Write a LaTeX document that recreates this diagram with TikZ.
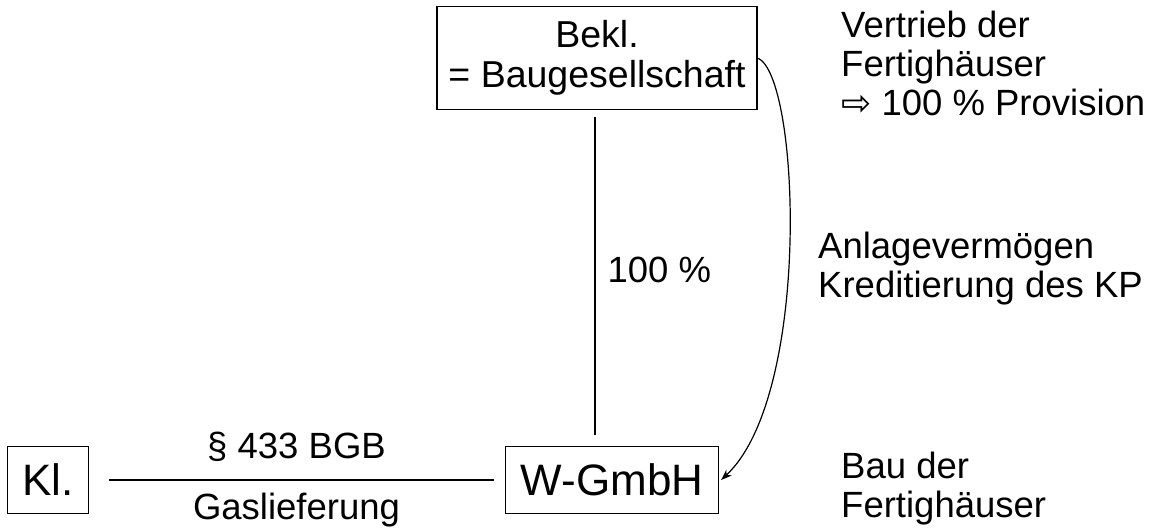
\documentclass[tikz,border=0pt]{standalone}
\usepackage{fontspec}
\setmainfont{Liberation Sans}
\newfontfamily\symfont{DejaVu Sans}
\usetikzlibrary{arrows.meta,positioning}
\tikzset{
  %% party box (two lines)
  pbox/.style={rectangle,draw=black,line width=1.2pt,fill=white,
    font=\fontsize{37.5}{40}\selectfont,align=center,inner sep=4pt},
  %% party box (one short name, bigger text)
  bbox/.style={rectangle,draw=black,line width=1.2pt,fill=white,
    minimum height=67pt,font=\fontsize{44}{48}\selectfont,align=center,inner sep=4pt},
  %% side notes
  note/.style={font=\fontsize{36.5}{39}\selectfont,align=left,anchor=west,inner sep=0pt},
  lbl/.style={font=\fontsize{36.5}{39}\selectfont,inner sep=0pt},
  %% lines
  lnk/.style={line width=1.2pt,color=black},
  arr/.style={-{Stealth[length=11pt,width=8pt]},line width=1.2pt,color=black},
}
\begin{document}
\begin{tikzpicture}[x=1pt,y=-1pt]
  \useasboundingbox (0,0) rectangle (1156,531);

  \node[pbox,minimum width=320pt,minimum height=103pt] (bekl) at (597,58) {Bekl.\\= Baugesellschaft};
  \node[bbox,minimum width=213pt] (wgmbh) at (612,480) {W-GmbH};
  \node[bbox,minimum width=81pt]  (kl)    at (48,480)  {Kl.};

  \node[note] (vertrieb) at (841,63.5) {Vertrieb der\\Fertighäuser\\{\symfont\fontsize{36}{39}\selectfont ⇨} 100 \% Provision};
  \node[note] (anlage)   at (818,269)  {Anlagevermögen\\Kreditierung des KP};
  \node[note] (bau)      at (841,489)  {Bau der\\Fertighäuser};

  \draw[lnk] ([yshift=-7pt]bekl.south -| 595,0) -- ([yshift=11pt]wgmbh.north -| 595,0)
    node[lbl,pos=0.48,anchor=west,xshift=12pt]{100 \%};
  \draw[lnk] ([xshift=20pt]kl.east) -- ([xshift=-11pt]wgmbh.west)
    node[lbl,midway,anchor=south,yshift=18pt,xshift=-5pt]{§ 433 BGB}
    node[lbl,midway,anchor=north,yshift=-12pt,xshift=-5pt]{Gaslieferung};
  \draw[arr] (bekl.east) .. controls (800,75) and (812,395) .. ([xshift=2pt]wgmbh.east);
\end{tikzpicture}
\end{document}
